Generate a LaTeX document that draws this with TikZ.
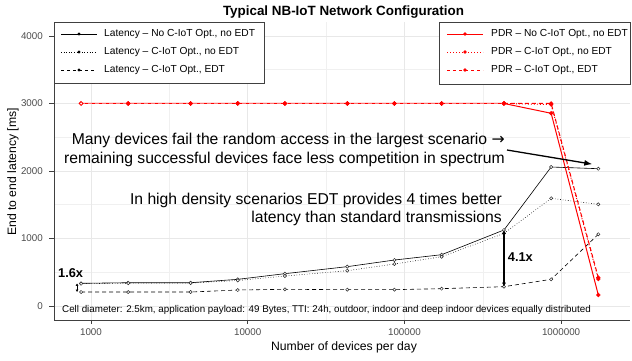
\documentclass[tikz,border=0pt]{standalone}
\usepackage{fontspec}
\setmainfont{Liberation Sans}
\newfontfamily\arrowfont{DejaVu Sans}
\usetikzlibrary{arrows.meta, positioning}

\begin{document}
\begin{tikzpicture}[
    x=1pt, y=1pt,
    grid/.style={draw=black!9, line width=0.7pt},
    minorgrid/.style={draw=black!6, line width=0.5pt},
    axis/.style={draw=black!75, line width=0.8pt},
    ticklab/.style={font=\fontsize{9.8}{12}\selectfont, text=black!70, inner sep=0pt},
    leg/.style={draw=black!75, fill=white, line width=0.8pt},
    legtxt/.style={anchor=west, font=\fontsize{10.2}{12}\selectfont, inner sep=0pt},
    note/.style={font=\fontsize{15.7}{18.6}\selectfont, align=right, inner sep=0pt},
    big/.style={font=\bfseries\fontsize{12.8}{15}\selectfont, inner sep=0pt},
    lat/.style={draw=black, line width=0.6pt},
    pdr/.style={draw=red, line width=1pt},
    latpt/.style={draw=black!85, fill=white, line width=0.5pt},
    pdrpt/.style={draw=red, fill=red, line width=0.5pt},
    arr/.style={-{Latex[length=8pt,width=6pt]}, line width=1.3pt},
    dbl/.style={{Latex[length=4pt,width=4pt]}-{Latex[length=4pt,width=4pt]}, line width=1.3pt},
    dblsmall/.style={{Latex[length=2.5pt,width=3pt]}-{Latex[length=2.5pt,width=3pt]}, line width=1pt}
]
    \useasboundingbox (0,0) rectangle (632,360);
    \fill[white] (0,0) rectangle (632,360);

    \begin{scope}[x=156.7pt, y=0.0675pt, shift={(-379.1pt,54pt)}]
        \foreach \L in {3.5,4.5,5.5} \draw[minorgrid] (\L,-207) -- (\L,4207);
        \foreach \v in {500,1500,2500,3500} \draw[minorgrid] (2.764,\v) -- (6.44,\v);
        \foreach \L in {3,...,6} \draw[grid] (\L,-207) -- (\L,4207);
        \foreach \v in {0,1000,2000,4000} \draw[grid] (2.764,\v) -- (6.44,\v);
        \draw[grid] (2.764,3000) -- (2.9365,3000);
        \draw[grid] (5.9365,3000) -- (6.44,3000);

        \draw[axis] (2.764,4207) -- (2.764,-207) -- (6.44,-207);
        \foreach \v in {0,1000,...,4000} {
            \draw[axis] (2.764,\v) -- ++(-5pt,0);
            \node[ticklab, anchor=east] (y\v) at ([xshift=-11pt]2.764,\v) {\v};
        }
        \foreach \L/\t in {3/1000,4/10000,5/100000,6/1000000} {
            \draw[axis] (\L,-207) -- ++(0,-4pt);
            \node[ticklab] (x\L) at ([yshift=-12pt]\L,-207) {\t};
        }

        \foreach \L/\sa/\sb/\sc/\pa/\pb/\pc [count=\i] in {
            2.9365/336/330/207/3000/3000/3000,
            3.2375/345/338/207/3000/3000/3000,
            3.6355/345/340/207/3000/3000/3000,
            3.9365/395/378/237/3000/3000/3000,
            4.2375/479/444/247/3000/3000/3000,
            4.6355/583/523/242/3000/3000/3000,
            4.9365/681/622/242/3000/3000/3000,
            5.2375/760/730/257/3000/3000/3000,
            5.6355/1126/1075/286/3000/3000/3000,
            5.9365/2059/1595/395/2855/2985/3000,
            6.2375/2034/1506/1062/163/400/420} {
            \coordinate (k\i) at (\L,\sa);
            \coordinate (t\i) at (\L,\sb);
            \coordinate (d\i) at (\L,\sc);
            \coordinate (pa\i) at (\L,\pa);
            \coordinate (pb\i) at (\L,\pb);
            \coordinate (pc\i) at (\L,\pc);
        }
    \end{scope}

    \draw[lat] (k1) \foreach \i in {2,...,11} {-- (k\i)};
    \draw[lat, dotted] (t1) \foreach \i in {2,...,11} {-- (t\i)};
    \draw[lat, dash pattern=on 4pt off 3pt] (d1) \foreach \i in {2,...,11} {-- (d\i)};
    \foreach \s in {k,t,d} \foreach \i in {1,...,11} \filldraw[latpt] (\s\i) circle (1.6pt);

    \draw[pdr] (pa1) \foreach \i in {2,...,11} {-- (pa\i)};
    \draw[pdr, dotted] (pb9) -- (pb10) -- (pb11);
    \draw[pdr, draw=red!55, dash pattern=on 4pt off 3pt] (pc1) \foreach \i in {2,...,9} {-- (pc\i)};
    \draw[pdr, dash pattern=on 4pt off 3pt] (pc9) -- (pc10) -- (pc11);
    \foreach \s in {pa,pb,pc} \foreach \i in {2,...,11} \filldraw[pdrpt] (\s\i) circle (1.9pt);
    \filldraw[pdrpt, fill=white, line width=0.9pt] (pc1) circle (1.9pt);

    \draw[leg] (54,338) rectangle (264,277);
    \foreach \y/\sty/\t [count=\i] in {
        {326/solid/Latency -- No C-IoT Opt., no EDT},
        {308/dotted/Latency -- C-IoT Opt., no EDT},
        {290/dashed/Latency -- C-IoT Opt., EDT}} {
        \draw[lat, \sty] (61,\y) -- (97,\y);
        \fill (79,\y) circle (1.7pt);
        \node[legtxt] (lgl\i) at (104,\y) {\t};
    }
    \draw[leg] (439,338) rectangle (630,276);
    \foreach \y/\sty/\t [count=\i] in {
        {326/solid/PDR -- No C-IoT Opt., no EDT},
        {308/dotted/PDR -- C-IoT Opt., no EDT},
        {290/dashed/PDR -- C-IoT Opt., EDT}} {
        \draw[pdr, \sty] (447,\y) -- (483,\y);
        \fill[red] (465,\y) circle (1.8pt);
        \node[legtxt] (lgr\i) at (491,\y) {\t};
    }

    \node[note, anchor=east] (many) at (505,210)
        {Many devices fail the random access in the largest scenario {\arrowfont →}\\remaining successful devices face less competition in spectrum};
    \draw[arr] ([xshift=2pt]many.east) -- ([shift={(-6pt,4.5pt)}]k11);
    \node[note, anchor=east] (edt) at (502,150.5)
        {In high density scenarios EDT provides 4 times better\\latency than standard transmissions};

    \draw[dbl] (k9) -- (d9);
    \node[big, anchor=west] (gain41) at (507.7,103.3) {4.1x};
    \draw[dblsmall] ([xshift=-4pt]k1) -- ([xshift=-4pt]d1);
    \node[big, anchor=west] (gain16) at (58,87.3) {1.6x};

    \node[font=\fontsize{9.8}{12}\selectfont, anchor=west, inner sep=0pt] (cell) at (62,50)
        {Cell diameter: 2.5km, application payload: 49 Bytes, TTI: 24h, outdoor, indoor and deep indoor devices equally distributed};

    \node[font=\bfseries\fontsize{13.4}{16}\selectfont] (title) at (343.5,348) {Typical NB-IoT Network Configuration};
    \node[rotate=90, font=\fontsize{12.2}{14}\selectfont] (ylab) at (13,188) {End to end latency [ms]};
    \node[font=\fontsize{12.2}{14}\selectfont] (xlab) at (344,13) {Number of devices per day};
\end{tikzpicture}
\end{document}
